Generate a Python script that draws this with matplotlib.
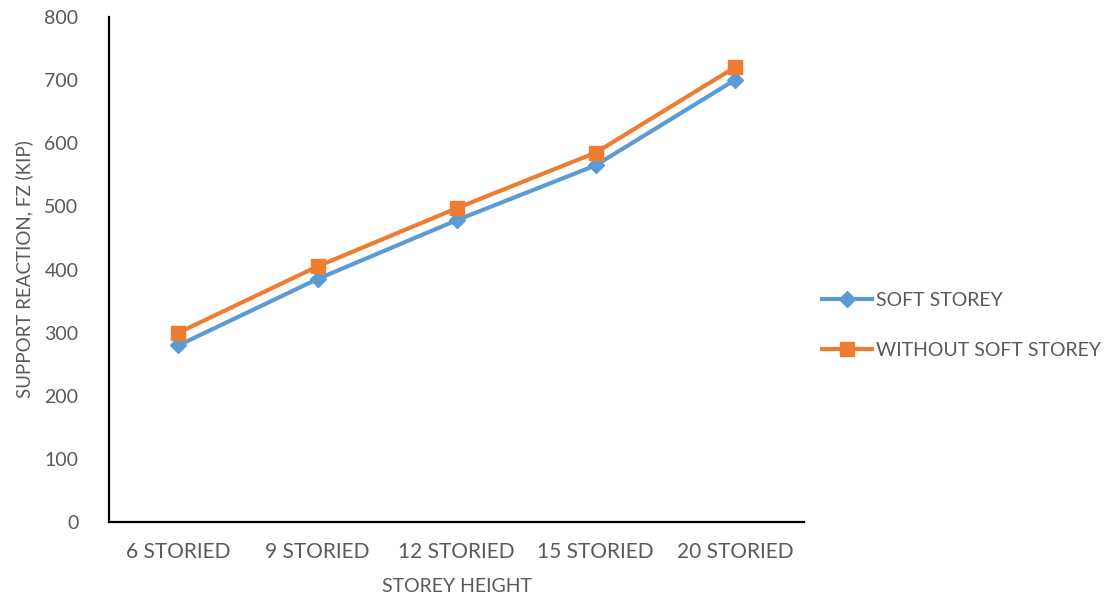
import matplotlib
matplotlib.use("Agg")
import matplotlib.pyplot as plt
from matplotlib.ticker import MultipleLocator

# storey heights and support reactions (kip)
categories = ["6 STORIED", "9 STORIED", "12 STORIED", "15 STORIED", "20 STORIED"]
soft_storey = [280, 385, 478, 565, 700]
without_soft = [300, 405, 497, 585, 720]

BLUE = "#5B9BD5"
ORANGE = "#ED7D31"
GREY = "#595959"

plt.rcParams['font.family'] = ['Lato', 'DejaVu Sans']

fig = plt.figure(figsize=(11.11, 6.01), dpi=100)
ax = fig.add_axes([0.098, 0.131, 0.626, 0.841])

x = list(range(len(categories)))
ax.plot(x, soft_storey, color=BLUE, lw=3, marker="D", ms=8, label="SOFT STOREY")
ax.plot(x, without_soft, color=ORANGE, lw=3, marker="s", ms=10, label="WITHOUT SOFT STOREY")

ax.set_xlim(-0.5, 4.5)
ax.set_ylim(0, 800)
ax.yaxis.set_major_locator(MultipleLocator(100))
ax.set_xticks(x)
ax.set_xticklabels(categories)

for s in ["top", "right"]:
    ax.spines[s].set_visible(False)
for s in ["left", "bottom"]:
    ax.spines[s].set_linewidth(1.6)
    ax.spines[s].set_color("black")

ax.tick_params(axis="both", length=0, colors=GREY, labelsize=14)
ax.tick_params(axis="x", labelsize=15, pad=14)
ax.tick_params(axis="y", pad=22)

ax.set_xlabel("STOREY HEIGHT", color=GREY, fontsize=14, labelpad=12)
ax.set_ylabel("SUPPORT REACTION, FZ (KIP)", color=GREY, fontsize=13.5, labelpad=8)

leg = ax.legend(loc="center left", bbox_to_anchor=(1.0, 0.39), frameon=False,
                fontsize=14, handlelength=2.6, labelspacing=1.7, handletextpad=0.2)
for t in leg.get_texts():
    t.set_color(GREY)

fig.savefig("out.png", dpi=100)
